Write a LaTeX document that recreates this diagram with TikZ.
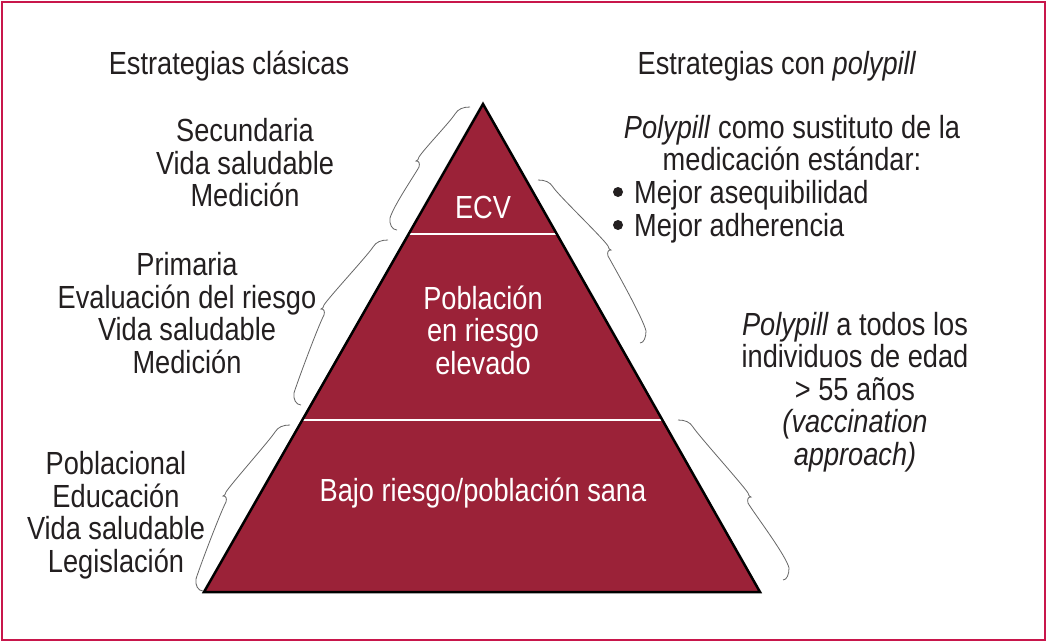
\documentclass[tikz,border=0pt]{standalone}
\usepackage{fontspec}
\setmainfont{Liberation Sans}[FakeStretch=0.85]
\usetikzlibrary{calc}
\definecolor{pyr}{RGB}{155,34,56}
\definecolor{framec}{RGB}{200,22,75}
\definecolor{txt}{RGB}{35,31,32}
\tikzset{
  lbl/.style={text=txt, align=center, font=\fontsize{32}{32.5}\selectfont, inner sep=0pt},
  wlbl/.style={lbl, text=white},
  brc/.style={draw=black!60, line width=0.8pt},
  bul/.style={circle, fill=txt, minimum size=10pt, inner sep=0pt},
}
\newcommand\bracL[3]{\draw[brc] (#1) .. controls ($(#1)+(-7,0)$) and ($(#1)+(-12,2)$) .. ($(#1)+(-15,7)$) .. controls ($(#1)+(-20,15)$) and ($(#2)+(8,-12)$) .. ($(#2)+(3,-4)$) .. controls ($(#2)+(2,-2)$) and ($(#2)+(2,0)$) .. (#2) .. controls ($(#2)+(3,0)$) and ($(#2)+(4,2)$) .. ($(#2)+(3,6)$) .. controls ($(#2)+(-2,15)$) and ($(#3)+(-3,-25)$) .. ($(#3)+(-7,-12)$) .. controls ($(#3)+(-8,-6)$) and ($(#3)+(-5,0)$) .. (#3);}
\newcommand\bracR[3]{\draw[brc] (#1) .. controls ($(#1)+(7,0)$) and ($(#1)+(12,2)$) .. ($(#1)+(15,7)$) .. controls ($(#1)+(20,15)$) and ($(#2)+(-8,-12)$) .. ($(#2)+(-3,-4)$) .. controls ($(#2)+(-2,-2)$) and ($(#2)+(-2,0)$) .. (#2) .. controls ($(#2)+(-3,0)$) and ($(#2)+(-4,2)$) .. ($(#2)+(-3,6)$) .. controls ($(#2)+(2,15)$) and ($(#3)+(3,-25)$) .. ($(#3)+(6,-12)$) .. controls ($(#3)+(6,-6)$) and ($(#3)+(4,0)$) .. (#3);}
\begin{document}
\begin{tikzpicture}[x=1pt,y=-1pt]
\useasboundingbox (0,0) rectangle (1048,642);
\fill[white] (0,0) rectangle (1048,642);
\draw[framec, line width=2.5pt] (2,2) rectangle (1045,640);
% pyramid
\coordinate (apex) at (483,104);
\coordinate (bl) at (204,592);
\coordinate (br) at (760,592);
\fill[pyr] (apex) -- (br) -- (bl) -- cycle;
\coordinate (s1l) at (409,234); \coordinate (s1r) at (557,234);
\coordinate (s2l) at (303,420); \coordinate (s2r) at (663,420);
\draw[white, line width=2pt] (s1l) -- (s1r);
\draw[white, line width=2pt] (s2l) -- (s2r);
\draw[black, line width=2.5pt, line join=miter] (apex) -- (br) -- (bl) -- cycle;
% labels in pyramid
\node[wlbl] (ecv) at (483,207) {ECV};
\node[wlbl] (alto) at (483,330) {Población\\en riesgo\\elevado};
\node[wlbl] (bajo) at (483,493) {Bajo riesgo/población sana};
% headers
\node[lbl] (hl) at (229,66) {Estrategias clásicas};
\node[lbl] (hr) at (777,66) {Estrategias con \textit{polypill}};
% left texts
\node[lbl] (l1) at (245,163) {Secundaria\\Vida saludable\\Medición};
\node[lbl] (l2) at (187,313) {Primaria\\Evaluación del riesgo\\Vida saludable\\Medición};
\node[lbl] (l3) at (116,515) {Poblacional\\Educación\\Vida saludable\\Legislación};
% right texts
\node[lbl] (r1) at (792,143) {\textit{Polypill} como sustituto de la\\medicación estándar:};
\node[bul] (b1) at (618,192) {};
\node[bul] (b2) at (618,225) {};
\node[lbl, anchor=base west] (m1) at (634,203) {Mejor asequibilidad};
\node[lbl, anchor=base west] (m2) at (634,236) {Mejor adherencia};
\node[lbl] (r2) at (855,392) {\textit{Polypill} a todos los\\individuos de edad\\> 55 años\\\textit{(vaccination}\\\textit{approach)}};
% braces
\bracL{470,107}{416,161}{397,230}
\bracL{388,240}{321,309}{301,405}
\bracL{290,425}{223,496}{203,591}
\bracR{538,180}{611,250}{640,343}
\bracR{678,420}{751,497}{783,580}
\end{tikzpicture}
\end{document}
